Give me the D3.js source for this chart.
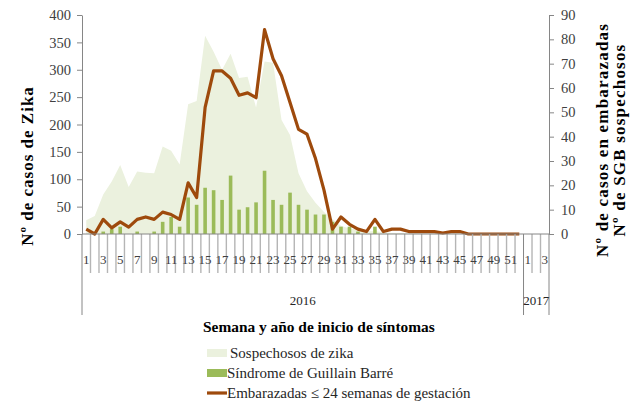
<!DOCTYPE html>
<html>
<head>
<meta charset="utf-8">
<script src="https://cdn.jsdelivr.net/npm/d3@7"></script>
<style>
  body { margin: 0; background: #fff; }
  svg { font-family: "Liberation Serif", "DejaVu Serif", serif; }
</style>
</head>
<body>
<div id="chart"></div>
<script>
// semanas epidemiologicas (2016: 1-52, 2017: 1-3)
var weeks = [1,2,3,4,5,6,7,8,9,10,11,12,13,14,15,16,17,18,19,20,21,22,23,24,25,26,
             27,28,29,30,31,32,33,34,35,36,37,38,39,40,41,42,43,44,45,46,47,48,49,50,51,52,
             1,2,3];
var years = [{label: "2016", from: 0, to: 52}, {label: "2017", from: 52, to: 55}];

// sospechosos de zika (eje izquierdo)
var zika = [25,33,72,96,126,86,114,112,111,160,152,127,237,243,362,333,300,329,285,287,231,315,313,208,181,111,
            78,57,40,27,15,10,8,5,5,3,2,2,1,1,1,1,1,1,1,0,0,0,0,0,0,0,
            null,null,null];
// SGB sospechosos (eje derecho)
var sgb = [0,0,1,2,3,0,1,0,1,5,7,3,15,12,19,18,14,24,10,11,13,26,14,12,17,12,
           10,8,8,5,3,3,1,0,3,0,0,0,0,0,0,0,0,0,0,0,0,0,0,0,0,0,
           0,0,0];
// embarazadas <= 24 semanas (eje derecho)
var embarazadas = [2,0,6,2.5,5,2.8,6,7,6,9,8,6,21,15,52,67,67,64,57,58,56,84,72,65,54,43,
                   41,31,18,2,7,4,2,1,6,1,2,2,1,1,1,1,0.4,1,1,0,0,0,0,0,0,0,
                   null,null,null];

var leftTicks = [0,50,100,150,200,250,300,350,400];
var rightTicks = [0,10,20,30,40,50,60,70,80,90];

var W = 634, H = 405;
var x0 = 82, x1 = 549, yTop = 15, yBase = 234;

var svg = d3.select("#chart").append("svg")
    .attr("width", W)
    .attr("height", H);

var idx = d3.range(weeks.length);
var x = d3.scaleBand().domain(idx).range([x0, x1]).padding(0);
var cx = function(i) { return x(i) + x.bandwidth() / 2; };
var yL = d3.scaleLinear().domain([0, 400]).range([yBase, yTop]);
var yR = d3.scaleLinear().domain([0, 90]).range([yBase, yTop]);

// area zika
var area = d3.area()
    .defined(function(i) { return zika[i] != null; })
    .x(cx)
    .y0(yBase)
    .y1(function(i) { return yL(zika[i]); });

svg.append("path")
    .datum(idx)
    .attr("d", area)
    .attr("fill", "#ebf1de");

// barras SGB
var bw = 3.6;
svg.selectAll("rect.sgb")
    .data(idx.filter(function(i) { return sgb[i] > 0; }))
    .enter().append("rect")
    .attr("class", "sgb")
    .attr("x", function(i) { return cx(i) - bw / 2; })
    .attr("width", bw)
    .attr("y", function(i) { return yR(sgb[i]); })
    .attr("height", function(i) { return yBase - yR(sgb[i]); })
    .attr("fill", "#9bbb59");

// linea embarazadas
var line = d3.line()
    .defined(function(i) { return embarazadas[i] != null; })
    .x(cx)
    .y(function(i) { return yR(embarazadas[i]); });

svg.append("path")
    .datum(idx)
    .attr("d", line)
    .attr("fill", "none")
    .attr("stroke", "#9e4a0c")
    .attr("stroke-width", 3.2)
    .attr("stroke-linejoin", "round");

// ejes Y
var axisColor = "#868686";
var gl = svg.append("g")
    .attr("transform", "translate(" + x0 + ",0)")
    .call(d3.axisLeft(yL).tickValues(leftTicks).tickSize(5).tickPadding(6).tickSizeOuter(0));
var gr = svg.append("g")
    .attr("transform", "translate(" + x1 + ",0)")
    .call(d3.axisRight(yR).tickValues(rightTicks).tickSize(5).tickPadding(7).tickSizeOuter(0));
[gl, gr].forEach(function(g) {
  g.attr("font-family", null);
  g.select(".domain").attr("stroke", axisColor);
  g.selectAll(".tick line").attr("stroke", axisColor);
  g.selectAll("text")
      .style("font-family", "Liberation Serif")
      .style("font-size", "14.5px")
      .attr("fill", "#404040");
});

// eje X: lineas de categoria
var bounds = d3.range(weeks.length + 1);
var groupEdges = [0, 52, 55];
svg.selectAll("line.xtick")
    .data(bounds)
    .enter().append("line")
    .attr("x1", function(b) { return b < weeks.length ? x(b) : x1; })
    .attr("x2", function(b) { return b < weeks.length ? x(b) : x1; })
    .attr("y1", yBase)
    .attr("y2", function(b) { return groupEdges.indexOf(b) >= 0 ? 315 : 273; })
    .attr("stroke", function(b) { return groupEdges.indexOf(b) >= 0 ? axisColor : "#b5b5b5"; })
    .attr("stroke-width", function(b) { return groupEdges.indexOf(b) >= 0 ? 1 : 1.4; });

svg.append("line")
    .attr("x1", x0).attr("x2", x1)
    .attr("y1", yBase).attr("y2", yBase)
    .attr("stroke", axisColor);

svg.selectAll("text.week")
    .data(idx.filter(function(i) { return weeks[i] % 2 == 1; }))
    .enter().append("text")
    .attr("x", cx)
    .attr("y", 264)
    .attr("text-anchor", "middle")
    .style("font-size", "13px")
    .attr("fill", "#404040")
    .text(function(i) { return weeks[i]; });

svg.selectAll("text.year")
    .data(years)
    .enter().append("text")
    .attr("x", function(d) { return ((d.to < weeks.length ? x(d.to) : x1) + x(d.from)) / 2; })
    .attr("y", 305)
    .attr("text-anchor", "middle")
    .style("font-size", "13px")
    .attr("fill", "#262626")
    .text(function(d) { return d.label; });

// titulos
svg.append("text")
    .attr("transform", "translate(33,166) rotate(-90)")
    .attr("text-anchor", "middle")
    .style("font-size", "17px")
    .style("font-weight", "bold")
    .style("letter-spacing", "1px")
    .text("Nº de casos de Zika");

svg.append("text")
    .attr("transform", "translate(608,140) rotate(-90)")
    .attr("text-anchor", "middle")
    .style("font-size", "17px")
    .style("font-weight", "bold")
    .style("letter-spacing", "1.2px")
    .text("Nº de casos en embarazadas");

svg.append("text")
    .attr("transform", "translate(625,140) rotate(-90)")
    .attr("text-anchor", "middle")
    .style("font-size", "17px")
    .style("font-weight", "bold")
    .style("letter-spacing", "1.2px")
    .text("Nº  de SGB sospechosos");

svg.append("text")
    .attr("x", 203)
    .attr("y", 332)
    .style("font-size", "15.4px")
    .style("font-weight", "bold")
    .text("Semana y año de inicio de síntomas");

// leyenda
var legend = [
  {label: "Sospechosos de zika", type: "area", color: "#ebf1de", tx: 230},
  {label: "Síndrome de Guillain Barré", type: "bar", color: "#9bbb59", tx: 227},
  {label: "Embarazadas ≤ 24 semanas de gestación", type: "line", color: "#9e4a0c", tx: 227}
];
var lg = svg.selectAll("g.legend")
    .data(legend)
    .enter().append("g")
    .attr("transform", function(d, i) { return "translate(0," + (353 + i * 20) + ")"; });
lg.each(function(d) {
  var g = d3.select(this);
  if (d.type == "line")
    g.append("rect").attr("x", 207).attr("y", -1.6).attr("width", 20).attr("height", 3.2).attr("fill", d.color);
  else
    g.append("rect").attr("x", 207).attr("y", -4).attr("width", 20).attr("height", 8).attr("fill", d.color);
});
lg.append("text")
    .attr("x", function(d) { return d.tx; })
    .attr("y", 5)
    .style("font-size", "15px")
    .attr("fill", "#262626")
    .text(function(d) { return d.label; });
</script>
</body>
</html>
